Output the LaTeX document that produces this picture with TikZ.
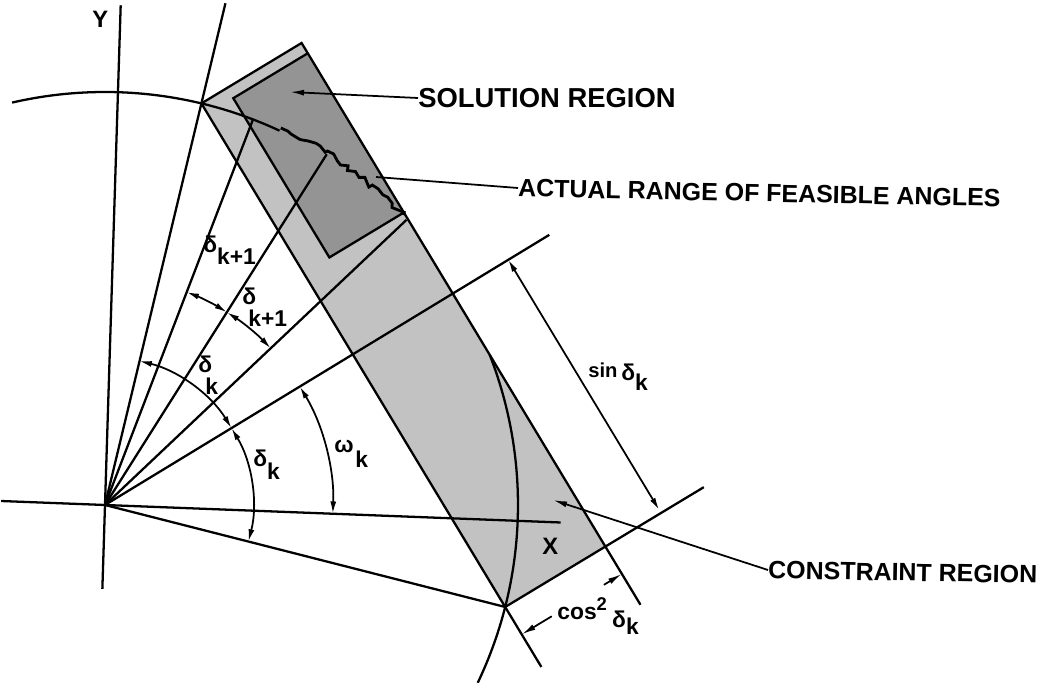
\documentclass[tikz,border=0pt]{standalone}
\usepackage{fontspec}
\setmainfont{Liberation Sans}
\usetikzlibrary{arrows.meta, calc, decorations.pathmorphing}

\begin{document}
\begin{tikzpicture}[
  x=0.02cm, y=0.02cm,
  ray/.style={line width=1.3pt},
  dim/.style={line width=1pt, {Latex[length=7pt,width=3.4pt]}-{Latex[length=7pt,width=3.4pt]}},
  lead/.style={line width=1pt, -{Latex[length=8pt,width=3.4pt]}},
  caption/.style={font=\bfseries\fontsize{14.2}{16}\selectfont, inner sep=0pt, anchor=west},
  sym/.style={font=\bfseries\fontsize{13}{14}\selectfont, inner sep=0pt, anchor=base west},
]
\useasboundingbox (0,0) rectangle (1042,683);

% centre, chord ends and the two regions
\coordinate (O)  at (105,178);
\coordinate (V1) at ($(O)+(76.5:413)$);
\coordinate (V2) at ($(O)+(-14.3:413)$);
\coordinate (TR) at ($(V1)+(31.1:117)$);
\coordinate (BR) at ($(V2)+(31.1:117)$);
\coordinate (S1) at ($(V1)+(31.1:30)+(-58.9:12)$);
\coordinate (S2) at ($(V1)+(31.1:117)+(-58.9:12)$);
\coordinate (S3) at ($(V1)+(31.1:117)+(-58.9:198)$);
\coordinate (S4) at ($(V1)+(31.1:30)+(-58.9:198)$);
\coordinate (LE) at ($(V2)+(-58.9:70)$);
\coordinate (RE) at ($(BR)+(-58.9:68)$);
\coordinate (BE) at ($(V2)+(31.1:232)$);

\fill[black!24] (V1) -- (TR) -- (BR) -- (V2) -- cycle;
\fill[black!42] (S1) -- (S2) -- (S3) -- (S4) -- cycle;

% axes and rays from the centre
\coordinate (Yt) at ($(O)+(88.2:500)$);
\coordinate (Yb) at ($(O)+(268.2:84)$);
\coordinate (Xl) at ($(O)+(177.8:104)$);
\coordinate (Xr) at ($(O)+(-2.2:456)$);
\draw[ray] (Yb) -- (Yt);
\draw[ray] (Xl) -- (Xr);
\foreach \n/\a/\r in {1/76.5/516, 2/69/413, 3/57.7/415, 4/43.4/415, 5/31.3/520}
  \coordinate (L\n) at ($(O)+(\a:\r)$);
\foreach \n in {1,...,5}
  \draw[ray] (O) -- (L\n);
\draw[ray] (O) -- (V2);

% unit circle, feasible part jagged
\draw[ray] (O) ++(103:413) arc[start angle=103, end angle=65, radius=413];
\pgfmathsetseed{11}
\draw[line width=1.6pt, decorate, decoration={random steps, segment length=3pt, amplitude=2pt}]
  (O) ++(65:416) arc[start angle=65, end angle=44.2, radius=416];
\draw[ray] (O) ++(21.3:413) arc[start angle=21.3, end angle=-25.5, radius=413];

% edges of constraint and solution regions
\draw[ray] (V1) -- (TR) -- (RE);
\draw[ray] (V1) -- (LE);
\draw[ray] (V2) -- (BE);
\draw[ray] (S2) -- (S1) -- (S4) -- (S3);

% angle arrows
\draw[dim] (O) ++(76.5:148) arc[start angle=76.5, end angle=31.3, radius=148];
\draw[dim] (O) ++(31.3:148) arc[start angle=31.3, end angle=-14.3, radius=148];
\draw[dim] (O) ++(31.3:228) arc[start angle=31.3, end angle=-2.2, radius=228];
\draw[dim] (O) ++(69:228) arc[start angle=69, end angle=57.7, radius=228];
\draw[dim] (O) ++(57.7:228) arc[start angle=57.7, end angle=43.4, radius=228];

% lengths
\coordinate (P) at ($(O)+(31.3:472)$);
\coordinate (Q) at ($(P)+(-58.9:292)$);
\draw[dim] (P) -- (Q);
\coordinate (cL) at ($(V2)+(-58.9:32)$);
\coordinate (cR) at ($(BR)+(-58.9:32)$);
\draw[lead] ($(cL)!0.3!(cR)$) -- (cL);
\draw[lead] ($(cL)!0.82!(cR)$) -- (cR);

% labels
\node[sym, font=\bfseries\fontsize{13.5}{14}\selectfont] (ylbl) at (92,655) {Y};
\node[sym, font=\bfseries\fontsize{13.5}{14}\selectfont] (xlbl) at (542,128) {X};
\node[sym] (dk1a) at (203,430) {δ\raisebox{-6.8pt}{k+1}};
\node[sym] (dk1b) at (242,378) {δ};
\node[sym] (dk1c) at (248,356) {k+1};
\node[sym] (dka) at (198,310) {δ};
\node[sym] (dkb) at (205,288) {k};
\node[sym] (dkc) at (253,216) {δ\raisebox{-7.4pt}{k}};
\node[sym] (wk) at (334,230) {ω\kern1pt\raisebox{-8.5pt}{k}};
\node[sym] (sinlbl) at (588,305) {{\fontsize{11.5}{12}\selectfont sin}\,\raisebox{-1.5pt}{δ\raisebox{-5.5pt}{k}}};
\node[sym] (coslbl) at (557,63) {cos\raisebox{5.5pt}{\fontsize{10.5}{11}\selectfont 2}\kern3pt\raisebox{-4pt}{δ\raisebox{-4.5pt}{k}}};

\node[caption, font=\bfseries\fontsize{15.6}{17}\selectfont] (sol) at (418,585) {SOLUTION REGION};
\node[caption, rotate=-1.2] (act) at (518,495) {ACTUAL RANGE OF FEASIBLE ANGLES};
\node[caption, rotate=-1] (con) at (768,113) {CONSTRAINT REGION};
\coordinate (solpt) at (290,591);
\coordinate (actpt) at (376,506);
\coordinate (conpt) at (553,183);
\draw[lead] (sol.west) -- (solpt);
\draw[line width=1pt] (act.west) -- (actpt);
\draw[lead] (con.west) -- (conpt);
\end{tikzpicture}
\end{document}
